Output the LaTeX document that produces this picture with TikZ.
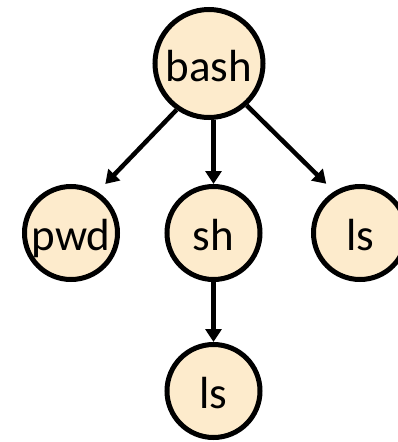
\documentclass[tikz,border=0pt]{standalone}
\usepackage{fontspec}
\setmainfont{Carlito}
\usetikzlibrary{arrows.meta}
\definecolor{procfill}{HTML}{FDEBCC}
\tikzset{
  proc/.style={circle, draw=black, line width=5pt, fill=procfill, inner sep=0pt,
    font=\fontsize{45}{50}\selectfont, text height=35pt, text depth=0pt},
  bigproc/.style={proc, minimum size=108pt},
  smallproc/.style={proc, minimum size=93pt},
  arr/.style={line width=4.5pt, -{Triangle[length=13pt,width=16pt]}}
}
\begin{document}
\begin{tikzpicture}[x=1pt, y=-1pt]
  \useasboundingbox (0,0) rectangle (397,442);
  \node[bigproc]   (bash) at (209,63.5) {bash};
  \node[smallproc] (pwd)  at (71,233)   {pwd};
  \node[smallproc] (sh)   at (213.5,233) {sh};
  \node[smallproc] (ls1)  at (360,233)  {ls};
  \node[smallproc] (ls2)  at (213.5,391) {ls};
  \draw[arr, shorten >=11pt] (bash.235) -- (pwd.57);
  \draw[arr] (sh.north |- bash.south) -- (sh.north);
  \draw[arr, shorten >=11pt] (bash.312) -- (ls1.122);
  \draw[arr] (sh.south) -- (ls2.north);
\end{tikzpicture}
\end{document}
